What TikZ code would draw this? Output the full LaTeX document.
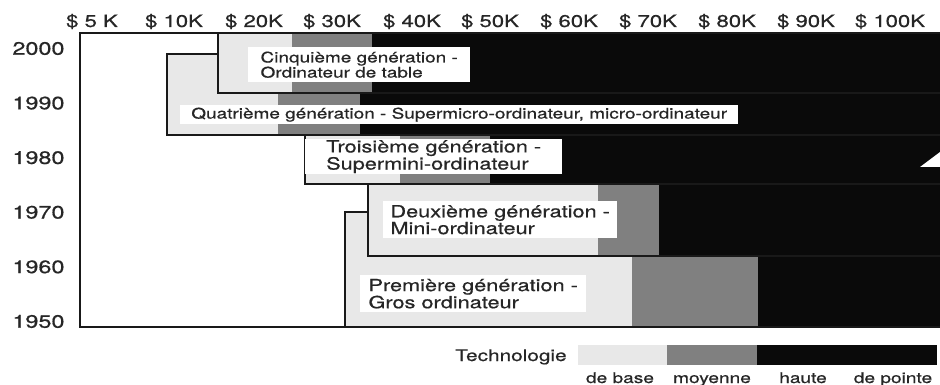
\documentclass[tikz,border=0pt]{standalone}
\usepackage{fontspec}
\setmainfont{TeX Gyre Heros}[FakeStretch=1.3, FakeBold=0.7]
\usepackage{tikz}
\usetikzlibrary{positioning}

\definecolor{techbase}{gray}{0.91}
\definecolor{techmoy}{gray}{0.50}
\definecolor{techhaute}{gray}{0.04}
\definecolor{scantext}{gray}{0.15}

\begin{document}
\begin{tikzpicture}[x=1pt, y=-1pt,
    frameline/.style={line width=2.2pt, black!90},
    genline/.style={line width=1.8pt, black!90},
    genlabel/.style={fill=white, anchor=north west, align=left, inner sep=0pt,
        text=scantext, font=\fontsize{14.6}{13}\selectfont},
    genlabelbig/.style={genlabel, font=\fontsize{16.7}{15}\selectfont},
    yearlabel/.style={anchor=east, text=scantext, font=\fontsize{18}{18}\selectfont},
    costlabel/.style={anchor=base, text=scantext, font=\fontsize{17}{17}\selectfont},
    legendlabel/.style={anchor=base, text=scantext, font=\fontsize{14.7}{15}\selectfont}]
    \useasboundingbox (0,0) rectangle (940,385);

    % generations, oldest first: left / top / bottom / end of base / end of moyenne
    \foreach \l/\t/\b/\m/\h in {345/212/327/632/758, 368/184/256/598/659,
                                305/135/184/400/490, 167/54/135/278/360,
                                218/33/93/292/372} {
        \fill[techbase] (\l,\t) rectangle (\m,\b);
        \fill[techmoy] (\m,\t) rectangle (\h,\b);
        \fill[techhaute] (\h,\t) rectangle (940,\b);
        \draw[genline] (940,\t) -- (\l,\t) -- (\l,\b) -- (940,\b);
    }

    % notch on the right edge of the scan
    \fill[white] (920,167) -- (940,152) -- (940,167) -- cycle;

    % frame
    \draw[frameline] (940,33) -- (80,33) -- (80,327) -- (940,327);

    % labels of the generations
    \node[genlabel, minimum width=222, minimum height=35] (cinq) at (248,47)
        {Cinquième génération -\\Ordinateur de table};
    \node[genlabel, minimum width=558, minimum height=19] (quatre) at (180,105)
        {Quatrième génération - Supermicro-ordinateur, micro-ordinateur};
    \node[genlabelbig, minimum width=257, minimum height=35] (trois) at (305,139)
        {Troisième génération -\\Supermini-ordinateur};
    \node[genlabelbig, minimum width=234, minimum height=37] (deux) at (383,201)
        {Deuxième génération -\\Mini-ordinateur};
    \node[genlabelbig, minimum width=226, minimum height=37] (prem) at (360,275)
        {Première génération -\\Gros ordinateur};

    % years
    \foreach \yr [count=\i from 0] in {2000,1990,1980,1970,1960,1950}
        \node[yearlabel] (y\yr) at (68,48.5+54.6*\i) {\yr};

    % costs
    \foreach \xc/\cost [count=\i] in {92/5 K, 174/10K, 254/20K, 332/30K, 412/40K,
                                      490/50K, 569/60K, 648/70K, 727/80K,
                                      806/90K, 890/100K}
        \node[costlabel] (c\i) at (\xc,27) {\$ \cost};

    % legend
    \node[legendlabel, font=\fontsize{16}{16}\selectfont] (techno) at (511,361) {Technologie};
    \fill[techbase] (578,345) rectangle (667,365);
    \fill[techmoy] (667,345) rectangle (757,365);
    \fill[techhaute] (757,345) rectangle (937,365);
    \node[legendlabel] (lbase) at (620,383) {de base};
    \node[legendlabel] (lmoy) at (712,383) {moyenne};
    \node[legendlabel] (lhaute) at (803,383) {haute};
    \node[legendlabel] (lpointe) at (893,383) {de pointe};
\end{tikzpicture}
\end{document}
